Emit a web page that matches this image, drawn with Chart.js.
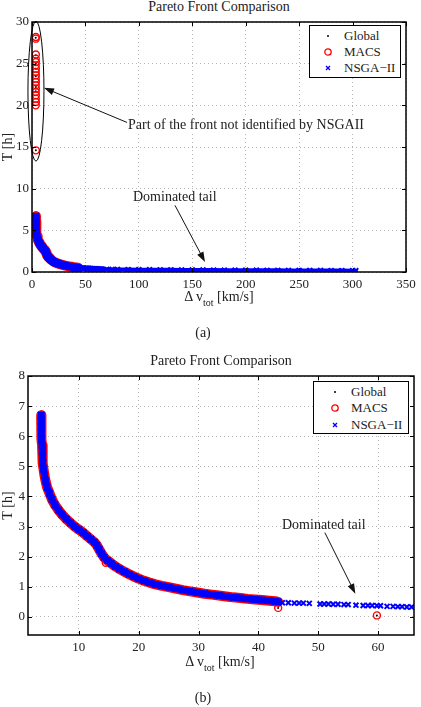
<!DOCTYPE html>
<html>
<head>
<meta charset="utf-8">
<script src="https://cdn.jsdelivr.net/npm/chart.js@4.4.0/dist/chart.umd.min.js"></script>
<style>
body{margin:0;background:#fff;font-family:'Liberation Serif','Times New Roman',serif;color:#222}
#lienzo{position:relative;width:421px;height:707px;overflow:hidden}
.graf{position:absolute;left:0}
.txt{position:absolute;white-space:nowrap;font-size:14px;line-height:14px}
.centro{transform:translateX(-50%)}
.txt sub{font-size:10px;vertical-align:-5px;line-height:0}
.leyenda{position:absolute;border:1.5px solid #000;background:#fff;font-size:13px;box-sizing:border-box}
.leyenda .fila{position:absolute;left:0;height:16px;line-height:16px}
.leyenda svg{position:absolute;top:3px}
</style>
</head>
<body>
<div id="lienzo">
  <div class="txt centro" style="left:219px;top:0px">Pareto Front Comparison</div>
  <canvas id="graficoA" class="graf" style="top:0px" width="421" height="295"></canvas>
  <div class="txt centro" style="left:219px;top:290px">&Delta; v<sub>tot</sub> [km/s]</div>
  <div class="txt centro" style="left:203px;top:326px">(a)</div>
  <div class="txt" style="left:127px;top:118px;background:#fff;padding:0 1px">Part of the front not identified by NSGAII</div>
  <div class="txt" style="left:133px;top:190px">Dominated tail</div>
  <div class="leyenda" style="left:309px;top:25px;width:92px;height:53px">
    <div class="fila" style="top:2px"><svg width="10" height="10" style="left:13px"><circle cx="5" cy="5" r="1" fill="#000"/></svg><span style="position:absolute;left:34px">Global</span></div>
    <div class="fila" style="top:18px"><svg width="10" height="10" style="left:13px"><circle cx="5" cy="5" r="3.2" fill="none" stroke="#f00" stroke-width="1.3"/></svg><span style="position:absolute;left:34px">MACS</span></div>
    <div class="fila" style="top:34px"><svg width="10" height="10" style="left:13px"><path d="M3 3L7 7M7 3L3 7" stroke="#00f" stroke-width="1.3"/></svg><span style="position:absolute;left:34px">NSGA&minus;II</span></div>
  </div>

  <div class="txt centro" style="left:221px;top:354px">Pareto Front Comparison</div>
  <canvas id="graficoB" class="graf" style="top:340px" width="421" height="320"></canvas>
  <div class="txt centro" style="left:220px;top:655px">&Delta; v<sub>tot</sub> [km/s]</div>
  <div class="txt centro" style="left:203px;top:691px">(b)</div>
  <div class="txt" style="left:282px;top:518px">Dominated tail</div>
  <div class="leyenda" style="left:313px;top:381px;width:96px;height:53px">
    <div class="fila" style="top:2px"><svg width="10" height="10" style="left:16px"><circle cx="5" cy="5" r="1" fill="#000"/></svg><span style="position:absolute;left:37px">Global</span></div>
    <div class="fila" style="top:18px"><svg width="10" height="10" style="left:16px"><circle cx="5" cy="5" r="3.2" fill="none" stroke="#f00" stroke-width="1.3"/></svg><span style="position:absolute;left:37px">MACS</span></div>
    <div class="fila" style="top:35px"><svg width="10" height="10" style="left:16px"><path d="M3 3L7 7M7 3L3 7" stroke="#00f" stroke-width="1.3"/></svg><span style="position:absolute;left:37px">NSGA&minus;II</span></div>
  </div>
</div>

<script>
// Frente de Pareto comun (Delta v [km/s], T [h])
const frenteX = [3.7,3.7,3.72,3.75,3.8,3.85,3.9,3.95,4.0,4.1,4.25,4.45,4.7,5.1,5.5,6.0,6.6,7.2,7.9,8.6,9.3,10.0,10.7,11.4,12.0,12.6,13.0,13.4,13.8,14.2,14.8,15.4,16.1,16.8,17.6,18.4,19.2,20.0,20.9,21.8,22.8,23.9,25.0,26.2,27.4,28.6,29.8,31.0,32.2,33.4,34.6,35.8,37.0,38.2,39.4,40.6,41.8,42.8,43.3];
const frenteY = [6.7,6.5,6.3,6.1,5.9,5.7,5.5,5.3,5.1,4.9,4.7,4.5,4.3,4.1,3.9,3.72,3.55,3.4,3.25,3.12,3.0,2.9,2.8,2.68,2.58,2.48,2.38,2.24,2.1,1.98,1.87,1.78,1.68,1.59,1.5,1.42,1.34,1.27,1.2,1.14,1.08,1.03,0.99,0.94,0.89,0.85,0.81,0.77,0.74,0.71,0.68,0.65,0.63,0.6,0.58,0.56,0.54,0.52,0.5];

// Parte alta que solo encuentra MACS
const macsAltoX = [3.6,3.5,3.6,3.5,3.6,3.5,3.6,3.5,3.6,3.5,3.6,3.5,3.6,3.5,3.6,3.5,3.6,3.5,3.6];
const macsAltoY = [28.2,28.0,26.1,25.6,25.2,24.8,24.4,24.0,23.6,23.2,22.8,22.4,22.0,21.6,21.2,20.8,20.4,20.0,14.6];
const globalAltoX = [3.5,3.6,3.5,3.6,3.5,3.6,3.5,3.6];
const globalAltoY = [28.1,26.0,25.0,24.4,23.5,22.2,21.7,14.6];

// Puntos sueltos de MACS
const atipX = [14.5,43.3,59.8];
const atipY = [1.8,0.3,0.05];

// Cola dominada de NSGA-II
const colaX = [44,45,46,46.8,47.5,48.5,50.3,51,51.7,52.5,53.3,54.3,55,56.3,57.5,58.3,59,59.8,60.4,61.5,62.5,63.3,64,64.8,65.6,70,75,80,90,100,110,120,130,140,150,160,170,180,190,200,210,220,230,240,250,260,270,280,290,300,303];
const colaY = [0.47,0.47,0.46,0.46,0.46,0.45,0.43,0.43,0.43,0.42,0.42,0.41,0.41,0.39,0.38,0.38,0.38,0.37,0.37,0.35,0.35,0.34,0.34,0.33,0.33,0.32,0.31,0.3,0.29,0.28,0.27,0.26,0.26,0.25,0.24,0.24,0.23,0.22,0.22,0.21,0.21,0.2,0.2,0.19,0.19,0.18,0.18,0.17,0.17,0.16,0.16];

// Ticks de los ejes
const ticksXa = [0,50,100,150,200,250,300,350];
const ticksYa = [0,5,10,15,20,25,30];
const ticksXb = [10,20,30,40,50,60];
const ticksYb = [0,1,2,3,4,5,6,7,8];

const globalX = frenteX.concat(globalAltoX, atipX);
const globalY = frenteY.concat(globalAltoY, atipY);
const macsX = frenteX.concat(macsAltoX, atipX);
const macsY = frenteY.concat(macsAltoY, atipY);
const nsgaX = frenteX.concat(colaX);
const nsgaY = frenteY.concat(colaY);

const nFrente = frenteX.length;

Chart.defaults.font.family = "'Liberation Serif', 'Times New Roman', serif";
Chart.defaults.font.size = 13;
Chart.defaults.color = '#222';

function puntos(xs, ys) {
    return xs.map((x, i) => ({ x: x, y: ys[i] }));
}

// el frente se ve como una banda continua: linea gruesa entre los marcadores
function series(colaConLinea, radioCola, anchoRojo, anchoAzul) {
    return [
        {
            label: 'Global', data: puntos(globalX, globalY), order: 2,
            pointStyle: 'circle', pointRadius: 1, pointBorderWidth: 0,
            backgroundColor: '#000', borderColor: '#000', showLine: false
        },
        {
            label: 'MACS', data: puntos(macsX, macsY), order: 1,
            pointStyle: 'circle', pointRadius: 3.5, pointBorderWidth: 1.4,
            pointBackgroundColor: 'rgba(0,0,0,0)', pointBorderColor: '#ff0000',
            borderColor: '#ff0000', borderWidth: anchoRojo, showLine: true,
            borderCapStyle: 'round', borderJoinStyle: 'round',
            segment: {
                borderColor: (s) => (s.p1DataIndex >= nFrente ? 'rgba(0,0,0,0)' : undefined)
            }
        },
        {
            label: 'NSGA\u2212II', data: puntos(nsgaX, nsgaY), order: 0,
            pointStyle: 'crossRot',
            pointRadius: (c) => (c.raw && c.raw.x > 43.5 ? radioCola : 4.5),
            pointBorderWidth: 2, pointBorderColor: '#0000ff', pointBackgroundColor: '#0000ff',
            borderColor: '#0000ff', borderWidth: anchoAzul, showLine: true,
            borderCapStyle: 'round', borderJoinStyle: 'round',
            segment: {
                borderColor: (s) => (!colaConLinea && s.p1DataIndex >= nFrente ? 'rgba(0,0,0,0)' : undefined),
                borderWidth: (s) => (s.p1DataIndex >= nFrente ? 4 : undefined)
            }
        }
    ];
}

// Marco negro, ticks interiores, elipse y flechas
const marcoPlugin = {
    id: 'marco',
    afterDraw(chart, args, opts) {
        const { ctx, chartArea: a, scales } = chart;
        const sx = scales.x, sy = scales.y;
        ctx.save();
        ctx.strokeStyle = '#000';
        ctx.lineWidth = 1.5;
        ctx.strokeRect(a.left, a.top, a.right - a.left, a.bottom - a.top);
        ctx.lineWidth = 1;
        ctx.beginPath();
        sx.ticks.forEach(t => {
            const p = Math.round(sx.getPixelForValue(t.value)) + 0.5;
            ctx.moveTo(p, a.bottom); ctx.lineTo(p, a.bottom - 4);
            ctx.moveTo(p, a.top); ctx.lineTo(p, a.top + 4);
        });
        sy.ticks.forEach(t => {
            const p = Math.round(sy.getPixelForValue(t.value)) + 0.5;
            ctx.moveTo(a.left, p); ctx.lineTo(a.left + 4, p);
            ctx.moveTo(a.right, p); ctx.lineTo(a.right - 4, p);
        });
        ctx.stroke();

        if (opts.elipse) {
            const e = opts.elipse;
            const cx = sx.getPixelForValue(e.x), cy = sy.getPixelForValue(e.y);
            const rx = Math.abs(sx.getPixelForValue(e.x + e.rx) - cx);
            const ry = Math.abs(sy.getPixelForValue(e.y + e.ry) - cy);
            ctx.beginPath();
            ctx.ellipse(cx, cy, rx, ry, 0, 0, Math.PI * 2);
            ctx.stroke();
        }
        (opts.flechas || []).forEach(f => {
            const x1 = sx.getPixelForValue(f[0]), y1 = sy.getPixelForValue(f[1]);
            const x2 = sx.getPixelForValue(f[2]), y2 = sy.getPixelForValue(f[3]);
            const ang = Math.atan2(y2 - y1, x2 - x1);
            ctx.strokeStyle = '#111';
            ctx.beginPath();
            ctx.moveTo(x1, y1);
            ctx.lineTo(x2 - 6 * Math.cos(ang), y2 - 6 * Math.sin(ang));
            ctx.stroke();
            ctx.fillStyle = '#111';
            ctx.beginPath();
            ctx.moveTo(x2, y2);
            ctx.lineTo(x2 - 10 * Math.cos(ang) + 3.5 * Math.sin(ang), y2 - 10 * Math.sin(ang) - 3.5 * Math.cos(ang));
            ctx.lineTo(x2 - 10 * Math.cos(ang) - 3.5 * Math.sin(ang), y2 - 10 * Math.sin(ang) + 3.5 * Math.cos(ang));
            ctx.closePath();
            ctx.fill();
        });
        ctx.restore();
    }
};

function ejes(xmin, xmax, ymin, ymax, tx, ty, anchoY, altoX) {
    const rejilla = { color: '#b5b5b5', lineWidth: 1, drawTicks: false };
    return {
        x: {
            type: 'linear', min: xmin, max: xmax,
            grid: rejilla, border: { display: false, dash: [1, 3] },
            ticks: { padding: 5, autoSkip: false, maxRotation: 0 },
            afterBuildTicks: (s) => { s.ticks = tx.map(v => ({ value: v })); },
            afterFit: (s) => { s.height = altoX; }
        },
        y: {
            type: 'linear', min: ymin, max: ymax,
            grid: rejilla, border: { display: false, dash: [1, 3] },
            ticks: { padding: 3, autoSkip: false },
            title: { display: true, text: 'T [h]', padding: 0, font: { size: 14 } },
            afterBuildTicks: (s) => { s.ticks = ty.map(v => ({ value: v })); },
            afterFit: (s) => { s.width = anchoY; }
        }
    };
}

const ctxA = document.getElementById('graficoA').getContext('2d');
new Chart(ctxA, {
    type: 'scatter',
    data: { datasets: series(true, 3.5, 10, 7) },
    options: {
        responsive: false,
        animation: false,
        layout: { padding: { top: 22, right: 15, left: 0, bottom: 0 } },
        scales: ejes(0, 350, 0, 30, ticksXa, ticksYa, 32, 23),
        plugins: {
            legend: { display: false },
            tooltip: { enabled: false },
            marco: {
                elipse: { x: 3.7, y: 21.7, rx: 7.5, ry: 8.4 },
                flechas: [[89.8, 17.9, 11.2, 22.1], [133.8, 8.0, 161.9, 1.2]]
            }
        }
    },
    plugins: [marcoPlugin]
});

const ctxB = document.getElementById('graficoB').getContext('2d');
new Chart(ctxB, {
    type: 'scatter',
    data: { datasets: series(false, 3.5, 10, 7) },
    options: {
        responsive: false,
        animation: false,
        layout: { padding: { top: 36, right: 7, left: 0, bottom: 0 } },
        scales: ejes(1.5, 66, -0.6, 8, ticksXb, ticksYb, 28, 25),
        plugins: {
            legend: { display: false },
            tooltip: { enabled: false },
            marco: {
                flechas: [[51.1, 2.8, 56.2, 0.77]]
            }
        }
    },
    plugins: [marcoPlugin]
});
</script>
</body>
</html>
